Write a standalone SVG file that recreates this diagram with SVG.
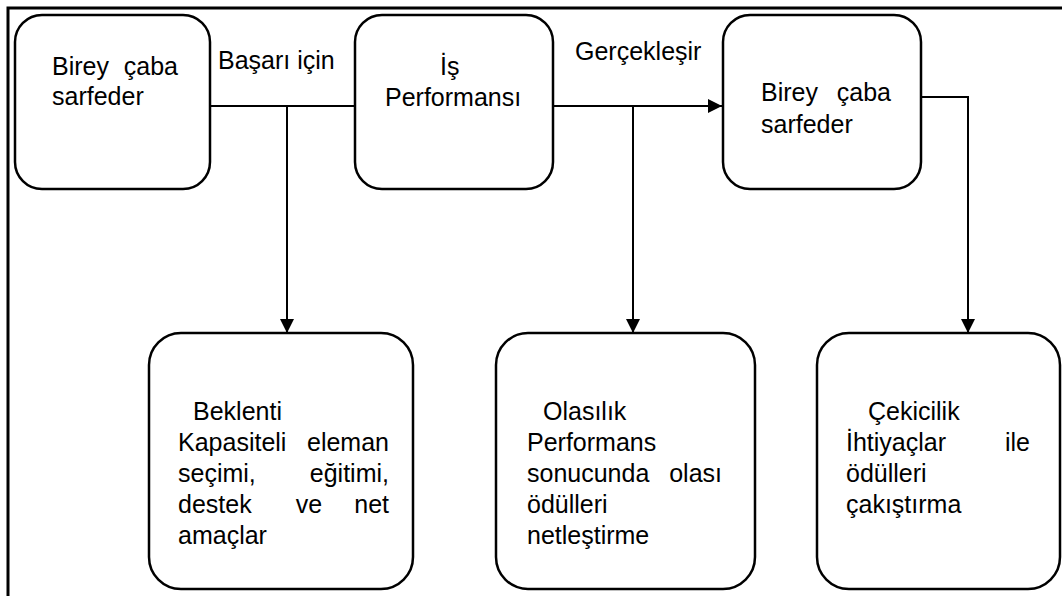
<svg xmlns="http://www.w3.org/2000/svg" width="1062" height="596" viewBox="0 0 1062 596">
  <style>
    .box { fill: #ffffff; stroke: #000000; stroke-width: 2.5; }
    .ln { fill: none; stroke: #000000; stroke-width: 2; }
    text { font-family: "Liberation Sans", Arial, sans-serif; font-size: 25px; fill: #000000; }
    .end { text-anchor: end; }
    .mid { text-anchor: middle; }
  </style>
  <defs>
    <marker id="arr" markerUnits="userSpaceOnUse" markerWidth="16" markerHeight="16" refX="14" refY="7" orient="auto">
      <path d="M0,0 L14,7 L0,14 Z" fill="#000000"/>
    </marker>
  </defs>
  <rect x="0" y="0" width="1062" height="596" fill="#ffffff"/>
  <path d="M8,596 V8 H1062" fill="none" stroke="#000000" stroke-width="3"/>

  <g id="connectors">
    <path class="ln" d="M210,106 H355"/>
    <path class="ln" d="M287,106 V333" marker-end="url(#arr)"/>
    <path class="ln" d="M553,106 H722" marker-end="url(#arr)"/>
    <path class="ln" d="M633,106 V333" marker-end="url(#arr)"/>
    <path class="ln" d="M921,97 H968 V333" marker-end="url(#arr)"/>
    <text x="218" y="69">Başarı için</text>
    <text x="575" y="60">Gerçekleşir</text>
  </g>

  <g id="node-birey1">
    <rect class="box" x="15" y="15" width="195" height="174" rx="27"/>
    <text x="52" y="75">Birey</text>
    <text class="end" x="178" y="75">çaba</text>
    <text x="52" y="105">sarfeder</text>
  </g>

  <g id="node-performans">
    <rect class="box" x="355" y="15" width="198" height="174" rx="27"/>
    <text x="440" y="75">İş</text>
    <text x="385" y="106">Performansı</text>
  </g>

  <g id="node-birey2">
    <rect class="box" x="723" y="15" width="198" height="174" rx="27"/>
    <text x="761" y="101">Birey</text>
    <text class="end" x="891" y="101">çaba</text>
    <text x="761" y="133">sarfeder</text>
  </g>

  <g id="node-beklenti">
    <rect class="box" x="149" y="333" width="264" height="256" rx="32"/>
    <text x="193" y="420">Beklenti</text>
    <text x="178" y="451">Kapasiteli</text>
    <text class="end" x="389" y="451">eleman</text>
    <text x="178" y="482">seçimi,</text>
    <text class="end" x="389" y="482">eğitimi,</text>
    <text x="178" y="513">destek</text>
    <text class="mid" x="309" y="513">ve</text>
    <text class="end" x="389" y="513">net</text>
    <text x="178" y="544">amaçlar</text>
  </g>

  <g id="node-olasilik">
    <rect class="box" x="496" y="333" width="259" height="256" rx="32"/>
    <text x="543" y="420">Olasılık</text>
    <text x="527" y="451">Performans</text>
    <text x="527" y="482">sonucunda</text>
    <text class="end" x="722" y="482">olası</text>
    <text x="527" y="513">ödülleri</text>
    <text x="527" y="544">netleştirme</text>
  </g>

  <g id="node-cekicilik">
    <rect class="box" x="817" y="333" width="243" height="256" rx="32"/>
    <text x="868" y="420">Çekicilik</text>
    <text x="846" y="451">İhtiyaçlar</text>
    <text class="end" x="1030" y="451">ile</text>
    <text x="846" y="482">ödülleri</text>
    <text x="846" y="513">çakıştırma</text>
  </g>
</svg>
